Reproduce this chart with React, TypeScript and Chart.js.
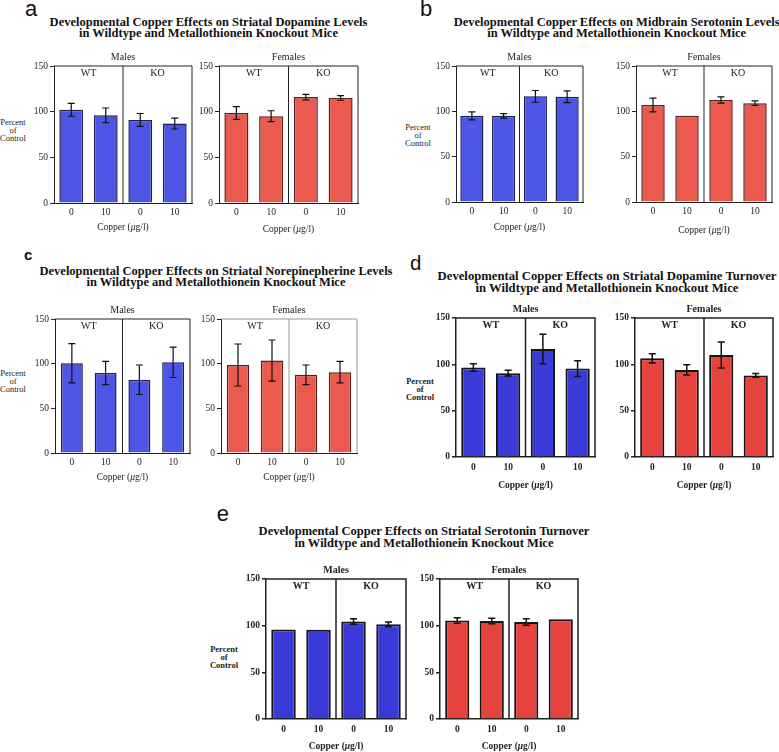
import React, { useEffect, useRef } from 'react';
import { Chart, registerables } from 'chart.js';
Chart.register(...registerables);

// ---------- data ----------
const doseLabels = ['0', '10', '0', '10'];
const genotypes = ['WT', 'KO'];
const sexes = ['Males', 'Females'];
const yTickValues = [0, 50, 100, 150];

const aMalesMean = [102, 96, 91, 87];
const aMalesErr = [7, 8, 7, 6];
const aFemalesMean = [98.5, 95, 116, 115];
const aFemalesErr = [7, 6, 3, 2.5];

const bMalesMean = [95, 95, 116.5, 116];
const bMalesErr = [4.5, 2.5, 6.5, 6.5];
const bFemalesMean = [107, 95, 112.5, 109];
const bFemalesErr = [7.5, 0, 3.5, 2.5];

const cMalesMean = [100.5, 89.5, 82, 101.5];
const cMalesErr = [22, 13, 16.5, 17];
const cFemalesMean = [98.5, 103.5, 87.5, 90.5];
const cFemalesErr = [23.5, 23, 11, 12];

const dMalesMean = [96.5, 90.5, 116.5, 95.5];
const dMalesErr = [4, 3, 16, 8.5];
const dFemalesMean = [106.5, 94, 110, 88];
const dFemalesErr = [5, 5.5, 14, 2];

const eMalesMean = [96, 95.5, 104.5, 101.5];
const eMalesErr = [0, 0, 3, 2.5];
const eFemalesMean = [105.5, 105, 104, 107];
const eFemalesErr = [3, 3, 3.5, 0];

const titlesLine1 = [
  'Developmental Copper Effects on Striatal Dopamine Levels',
  'Developmental Copper Effects on Midbrain Serotonin Levels',
  'Developmental Copper Effects on Striatal Norepinepherine Levels',
  'Developmental Copper Effects on Striatal Dopamine Turnover',
  'Developmental Copper Effects on Striatal Serotonin Turnover',
];
const titleLine2 = 'in Wildtype and Metallothionein Knockout Mice';
const panelLetters = ['a', 'b', 'c', 'd', 'e'];

// ---------- drawing ----------
const SERIF = '"Times New Roman", "Liberation Serif", Tinos, "DejaVu Serif", serif';
const SANS = 'Arial, "Liberation Sans", Helvetica, sans-serif';
const PAD_TOP = 22;
const PAD_RIGHT = 10;
const Y_W = 40;
const X_H = 36;

const annotPlugin = {
  id: 'annot',
  beforeDatasetsDraw(chart: any, _a: any, opts: any) {
    const { ctx, chartArea } = chart;
    const { left, right, top, bottom } = chartArea;
    const mid = (left + right) / 2;
    ctx.save();
    ctx.strokeStyle = opts.frameColor;
    ctx.lineWidth = opts.frameWidth;
    ctx.beginPath();
    ctx.moveTo(left, top);
    ctx.lineTo(right, top);
    ctx.lineTo(right, bottom);
    ctx.moveTo(mid, top);
    ctx.lineTo(mid, bottom);
    ctx.stroke();
    ctx.restore();
  },
  afterDatasetsDraw(chart: any, _a: any, opts: any) {
    const { ctx, chartArea } = chart;
    const { left, right, top, bottom } = chartArea;
    const mid = (left + right) / 2;
    const ys = chart.scales.y;
    const meta = chart.getDatasetMeta(0);
    const data = chart.data.datasets[0].data;
    ctx.save();
    ctx.strokeStyle = '#111';
    ctx.lineWidth = opts.errWidth;
    meta.data.forEach((bar: any, i: number) => {
      const e = opts.errs[i];
      if (!e) return;
      const v = data[i];
      const y1 = ys.getPixelForValue(v + e);
      const y2 = ys.getPixelForValue(v - e);
      const x = bar.x;
      ctx.beginPath();
      ctx.moveTo(x, y1);
      ctx.lineTo(x, y2);
      ctx.moveTo(x - 3.5, y1);
      ctx.lineTo(x + 3.5, y1);
      ctx.moveTo(x - 3.5, y2);
      ctx.lineTo(x + 3.5, y2);
      ctx.stroke();
    });
    const weight = opts.bold ? 'bold ' : '';
    ctx.fillStyle = '#222';
    ctx.textAlign = 'center';
    ctx.textBaseline = 'middle';
    ctx.font = `${weight}10px ${SERIF}`;
    ctx.fillText(opts.sex, mid, top - 9);
    ctx.fillText(genotypes[0], (left + mid) / 2, top + 7);
    ctx.fillText(genotypes[1], (mid + right) / 2, top + 7);
    // Copper (µg/l) with italic µ
    const fs = 9.5;
    const p1 = 'Copper (';
    const p2 = 'μ';
    const p3 = 'g/l)';
    const f1 = `${weight}${fs}px ${SERIF}`;
    const f2 = `italic ${weight}${fs}px ${SERIF}`;
    ctx.font = f1;
    const w1 = ctx.measureText(p1).width;
    const w3 = ctx.measureText(p3).width;
    ctx.font = f2;
    const w2 = ctx.measureText(p2).width;
    const x0 = mid - (w1 + w2 + w3) / 2;
    const cy = bottom + opts.copperOffset;
    ctx.textAlign = 'left';
    ctx.font = f1;
    ctx.fillText(p1, x0, cy);
    ctx.font = f2;
    ctx.fillText(p2, x0 + w1, cy);
    ctx.font = f1;
    ctx.fillText(p3, x0 + w1 + w2, cy);
    ctx.restore();
  },
};

type Spec = {
  means: number[];
  errs: number[];
  L: number;
  R: number;
  T: number;
  B: number;
  sex: string;
  bold: boolean;
  color: string;
  border: string;
  borderWidth: number;
  barPct: number;
  copperOffset: number;
  frameColor?: string;
  frameWidth: number;
  tickPad: number;
};

function SubChart({ s }: { s: Spec }) {
  const ref = useRef<HTMLCanvasElement>(null);
  const width = Math.round(s.R - s.L) + Y_W + PAD_RIGHT;
  const height = Math.round(s.B - s.T) + PAD_TOP + X_H;
  useEffect(() => {
    if (!ref.current) return;
    const weight = s.bold ? 'bold' : 'normal';
    const axisColor = '#222';
    const chart = new Chart(ref.current, {
      type: 'bar',
      data: {
        labels: doseLabels,
        datasets: [
          {
            data: s.means,
            backgroundColor: s.color,
            borderColor: s.border,
            borderWidth: s.borderWidth,
            barPercentage: s.barPct,
            categoryPercentage: 1,
          },
        ],
      },
      options: {
        animation: false,
        responsive: false,
        devicePixelRatio: 1,
        layout: { padding: { top: PAD_TOP, right: PAD_RIGHT, left: 0, bottom: 0 } },
        plugins: {
          legend: { display: false },
          tooltip: { enabled: false },
          annot: {
            errs: s.errs,
            sex: s.sex,
            bold: s.bold,
            copperOffset: s.copperOffset,
            frameColor: s.frameColor || axisColor,
            frameWidth: s.frameWidth,
            errWidth: s.bold ? 1.5 : 1.2,
          },
        } as any,
        scales: {
          x: {
            grid: { display: false, drawTicks: false },
            border: { display: true, color: axisColor, width: s.frameWidth },
            ticks: {
              padding: s.tickPad,
              color: '#222',
              font: { family: SERIF, size: 9.5, weight },
              maxRotation: 0,
            },
            afterFit: (sc: any) => {
              sc.height = X_H;
            },
          },
          y: {
            min: 0,
            max: 150,
            afterBuildTicks: (sc: any) => {
              sc.ticks = yTickValues.map((v) => ({ value: v }));
            },
            grid: {
              display: true,
              drawOnChartArea: false,
              drawTicks: true,
              tickLength: 4,
              color: axisColor,
              lineWidth: s.frameWidth,
            },
            border: { display: true, color: axisColor, width: s.frameWidth },
            ticks: {
              padding: 2,
              color: '#222',
              font: { family: SERIF, size: 9.5, weight },
            },
            afterFit: (sc: any) => {
              sc.width = Y_W;
            },
          },
        },
      },
      plugins: [annotPlugin],
    });
    return () => chart.destroy();
  }, []);
  return (
    <canvas
      ref={ref}
      width={width}
      height={height}
      style={{
        position: 'absolute',
        left: s.L - Y_W,
        top: s.T - PAD_TOP,
        width,
        height,
      }}
    />
  );
}

const blueA = '#4c55e4';
const redA = '#eb5a4f';
const blueD = '#3a3ad8';
const redD = '#e6423e';

function mk(
  means: number[],
  errs: number[],
  L: number,
  R: number,
  T: number,
  B: number,
  female: boolean,
  heavy: boolean,
  barPct: number,
  copperOffset: number,
  frameColor?: string
): Spec {
  return {
    means,
    errs,
    L,
    R,
    T,
    B,
    sex: female ? sexes[1] : sexes[0],
    bold: heavy,
    color: heavy ? (female ? redD : blueD) : female ? redA : blueA,
    border: heavy ? '#151515' : female ? '#5a1e1e' : '#1e1e50',
    borderWidth: heavy ? 2 : 1.5,
    barPct,
    copperOffset,
    frameColor,
    frameWidth: heavy ? 1.5 : 1,
    tickPad: heavy ? 5 : 4,
  };
}

const charts: Spec[] = [
  mk(aMalesMean, aMalesErr, 54, 192, 66, 203, false, false, 0.69, 24),
  mk(aFemalesMean, aFemalesErr, 219, 358, 66, 203, true, false, 0.69, 26),
  mk(bMalesMean, bMalesErr, 456, 583, 66, 202, false, false, 0.73, 25.5),
  mk(bFemalesMean, bFemalesErr, 636, 772, 66, 202, true, false, 0.69, 28),
  mk(cMalesMean, cMalesErr, 55, 190, 319, 453, false, false, 0.65, 24),
  mk(cFemalesMean, cFemalesErr, 221, 357, 319, 453, true, false, 0.66, 24, '#999'),
  mk(dMalesMean, dMalesErr, 456, 595, 318, 457, false, true, 0.7, 29),
  mk(dFemalesMean, dFemalesErr, 635, 773, 318, 457, true, true, 0.7, 29),
  mk(eMalesMean, eMalesErr, 266, 406, 579, 719, false, true, 0.7, 28),
  mk(eFemalesMean, eFemalesErr, 440, 578, 579, 719, true, true, 0.7, 28),
];

type PanelText = {
  tx: number;
  ty: number;
  lh: number;
  ts: number;
  lx: number;
  ly: number;
  lsize: number;
  lbold: boolean;
  px: number;
  py: number;
  pbold: boolean;
};

const panelTexts: PanelText[] = [
  { tx: 208.5, ty: 22.7, lh: 11, ts: 12.5, lx: 25, ly: -1.6, lsize: 22, lbold: false, px: 13, py: 130, pbold: false },
  { tx: 616.7, ty: 22.7, lh: 11, ts: 12.5, lx: 420, ly: -1.6, lsize: 22, lbold: false, px: 418, py: 135, pbold: false },
  { tx: 216, ty: 271.7, lh: 11, ts: 12.5, lx: 24, ly: 247.3, lsize: 15, lbold: true, px: 13, py: 380.5, pbold: false },
  { tx: 607, ty: 276.7, lh: 11.8, ts: 12.7, lx: 410, ly: 252.6, lsize: 20.5, lbold: false, px: 420, py: 388.5, pbold: true },
  { tx: 424, ty: 530.7, lh: 12, ts: 12.5, lx: 216.7, ly: 503, lsize: 22, lbold: false, px: 224, py: 657, pbold: true },
];

export default function App() {
  return (
    <div
      style={{
        position: 'absolute',
        left: 0,
        top: 0,
        width: 779,
        height: 752,
        background: '#fff',
        overflow: 'hidden',
      }}
    >
      {panelTexts.map((p, i) => (
        <React.Fragment key={i}>
          <div
            style={{
              position: 'absolute',
              left: p.lx,
              top: p.ly,
              fontFamily: SANS,
              fontSize: p.lsize,
              fontWeight: p.lbold ? 700 : 400,
              lineHeight: `${p.lsize}px`,
              color: '#111',
            }}
          >
            {panelLetters[i]}
          </div>
          <div
            style={{
              position: 'absolute',
              left: p.tx,
              top: p.ty - p.lh / 2,
              transform: 'translateX(-50%)',
              whiteSpace: 'nowrap',
              textAlign: 'center',
              fontFamily: SERIF,
              fontWeight: 700,
              fontSize: p.ts,
              lineHeight: `${p.lh}px`,
              color: '#111',
            }}
          >
            {titlesLine1[i]}
            <br />
            {titleLine2}
          </div>
          <div
            style={{
              position: 'absolute',
              left: p.px,
              top: p.py - 12,
              transform: 'translateX(-50%)',
              whiteSpace: 'nowrap',
              textAlign: 'center',
              fontFamily: SERIF,
              fontWeight: p.pbold ? 700 : 400,
              fontSize: 8.5,
              lineHeight: '8px',
              color: '#222',
            }}
          >
            Percent
            <br />
            of
            <br />
            Control
          </div>
        </React.Fragment>
      ))}
      {charts.map((s, i) => (
        <SubChart key={i} s={s} />
      ))}
    </div>
  );
}
